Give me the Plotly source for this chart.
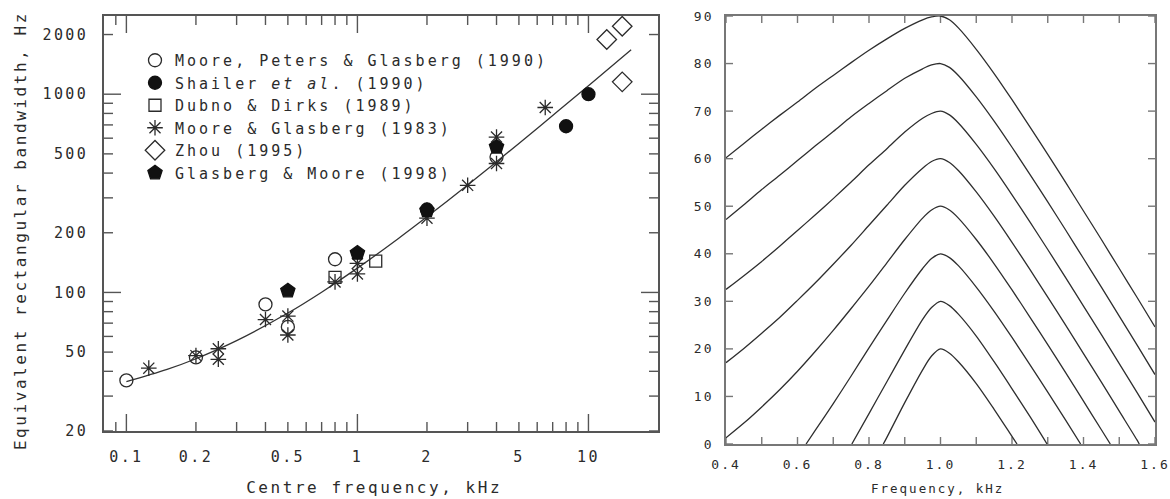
import math
import plotly.graph_objects as go

# ---------------- Left panel: ERB vs centre frequency ----------------
mpg_f = [0.1, 0.2, 0.4, 0.5, 0.8, 4.0]
mpg_erb = [36, 47, 87, 67, 147, 482]

shailer_f = [2.0, 8.0, 10.0]
shailer_erb = [262, 689, 1000]

dubno_f = [0.8, 1.2]
dubno_erb = [119, 144]

mg83_f = [0.125, 0.2, 0.25, 0.25, 0.4, 0.5, 0.5, 0.8, 1.0, 1.0, 2.0, 3.0, 4.0, 4.0, 6.5]
mg83_erb = [41.5, 48, 52, 46, 73, 76, 61, 113, 140, 124, 237, 347, 608, 447, 857]

zhou_f = [12.0, 14.0, 14.0]
zhou_erb = [1888, 2203, 1154]

gm98_f = [0.5, 1.0, 2.0, 4.0]
gm98_erb = [102, 158, 259, 542]

fit_f = [0.1, 0.15, 0.2, 0.3, 0.5, 0.7, 1.0, 1.5, 2.0, 3.0, 5.0, 7.0, 10.0, 15.3]
fit_erb = [35.5, 40.9, 46.3, 57.1, 78.7, 100.3, 132.6, 186.6, 240.6, 348.5, 564.4, 780.3, 1104, 1676]

x_ticks_left = [0.09, 0.1, 0.2, 0.3, 0.4, 0.5, 0.6, 0.7, 0.8, 0.9, 1, 2, 3, 4, 5, 6, 7, 8, 9, 10]
x_labels_left = {0.1: "0.1", 0.2: "0.2", 0.5: "0.5", 1: "1", 2: "2", 5: "5", 10: "10"}
x_decades_left = [0.1, 1, 10]
y_ticks_left = [20, 30, 40, 50, 60, 70, 80, 90, 100, 200, 300, 400, 500, 600, 700, 800, 900, 1000, 2000]
y_labels_left = {20: "20", 50: "50", 100: "100", 200: "200", 500: "500", 1000: "1000", 2000: "2000"}
y_decades_left = [100, 1000]

# ---------------- Right panel: filter shapes at 20-90 dB ----------------
lvl90_f = [0.4, 0.45, 0.5, 0.55, 0.6, 0.65, 0.7, 0.75, 0.8, 0.85, 0.9, 0.95, 0.975, 1.0,
           1.025, 1.05, 1.1, 1.15, 1.2, 1.25, 1.3, 1.35, 1.4, 1.45, 1.5, 1.55, 1.6]
lvl90_db = [60.2, 63.2, 66.2, 69.1, 71.9, 74.8, 77.5, 80.2, 82.8, 85.2, 87.4, 89.2, 89.8, 90.0,
            89.2, 87.5, 83.0, 77.9, 72.4, 66.7, 60.9, 55.0, 49.0, 43.0, 36.9, 30.8, 24.6]

lvl80_f = lvl90_f
lvl80_db = [47.2, 50.3, 53.5, 56.5, 59.6, 62.7, 65.7, 68.8, 71.6, 74.3, 76.9, 78.9, 79.7, 80.0,
            79.2, 77.5, 73.0, 67.9, 62.4, 56.7, 50.9, 45.0, 39.0, 33.0, 26.9, 20.8, 14.6]

lvl70_f = lvl90_f
lvl70_db = [32.5, 35.4, 38.4, 41.6, 44.9, 48.2, 51.6, 55.1, 58.7, 62.1, 65.6, 68.5, 69.5, 70.0,
            69.2, 67.5, 63.0, 57.9, 52.4, 46.7, 40.9, 35.0, 29.0, 23.0, 16.9, 10.8, 4.6]

lvl60_f = [0.4, 0.45, 0.5, 0.55, 0.6, 0.65, 0.7, 0.75, 0.8, 0.85, 0.9, 0.95, 0.975, 1.0,
           1.025, 1.05, 1.1, 1.15, 1.2, 1.25, 1.3, 1.35, 1.4, 1.45, 1.5, 1.55, 1.556]
lvl60_db = [17.1, 20.1, 23.3, 26.6, 30.2, 33.9, 37.8, 41.8, 46.0, 50.2, 54.4, 58.0, 59.4, 60.0,
            59.2, 57.5, 53.0, 47.9, 42.4, 36.7, 30.9, 25.0, 19.0, 13.0, 6.9, 0.8, 0.0]

lvl50_f = [0.4, 0.45, 0.5, 0.55, 0.6, 0.65, 0.7, 0.75, 0.8, 0.85, 0.9, 0.95, 0.975, 1.0,
           1.025, 1.05, 1.1, 1.15, 1.2, 1.25, 1.3, 1.35, 1.4, 1.45, 1.475]
lvl50_db = [1.3, 4.4, 7.8, 11.4, 15.3, 19.5, 23.9, 28.5, 33.2, 38.1, 43.0, 47.5, 49.2, 50.0,
            49.2, 47.5, 43.0, 37.9, 32.4, 26.7, 20.9, 15.0, 9.0, 3.0, 0.0]

lvl40_f = [0.624, 0.65, 0.7, 0.75, 0.8, 0.85, 0.9, 0.95, 0.975, 1.0,
           1.025, 1.05, 1.1, 1.15, 1.2, 1.25, 1.3, 1.35, 1.392]
lvl40_db = [0.0, 2.9, 8.5, 14.3, 20.2, 26.0, 31.7, 36.9, 39.0, 40.0,
            39.2, 37.5, 33.0, 27.9, 22.4, 16.7, 10.9, 5.0, 0.0]

lvl30_f = [0.752, 0.8, 0.85, 0.9, 0.95, 0.975, 1.0, 1.025, 1.05, 1.1, 1.15, 1.2, 1.25, 1.298]
lvl30_db = [0.0, 6.4, 13.1, 19.8, 26.2, 28.7, 30.0, 29.1, 27.3, 22.7, 17.3, 11.6, 5.8, 0.0]

lvl20_f = [0.84, 0.85, 0.9, 0.95, 0.975, 1.0, 1.025, 1.05, 1.1, 1.15, 1.2, 1.214]
lvl20_db = [0.0, 1.4, 8.7, 15.6, 18.5, 20.0, 19.1, 17.3, 12.7, 7.3, 1.6, 0.0]

x_ticks_right = [0.4, 0.5, 0.6, 0.7, 0.8, 0.9, 1.0, 1.1, 1.2, 1.3, 1.4, 1.5, 1.6]
x_labels_right = ["0.4", "", "0.6", "", "0.8", "", "1.0", "", "1.2", "", "1.4", "", "1.6"]
y_ticks_right = [0, 10, 20, 30, 40, 50, 60, 70, 80, 90]

FONT = "DejaVu Sans Mono"
INK = "#2b2b2b"
FRAME_L = "#555555"
FRAME_R = "#777777"

W, H = 1170, 499
L_px_x = [104, 658]          # frame edges, px from the left
L_px_y = [431, 16]           # frame edges, px from the top (bottom, top)
R_px_x = [726, 1155]
R_px_y = [444, 16]
L_dom_x = [L_px_x[0] / W, L_px_x[1] / W]
L_dom_y = [(H - L_px_y[0]) / H, (H - L_px_y[1]) / H]
R_dom_x = [R_px_x[0] / W, R_px_x[1] / W]
R_dom_y = [(H - R_px_y[0]) / H, (H - R_px_y[1]) / H]

x_range_left = [-1.0969, 1.3010]     # log10 units
y_range_left = [1.3010, 3.3945]      # log10 units
x_range_right = [0.4, 1.6]
y_range_right = [0, 90]

fig = go.Figure()


# ---- inward tick marks on all four sides, drawn as thin line traces ----
def tick_trace(axis_pair, ticks, rng, other_rng, span_px, other_span_px,
               log, other_log, vertical, length_of, color):
    """Tick segments for one axis, at both frame edges, in data units."""
    xs, ys = [], []
    per_px = (other_rng[1] - other_rng[0]) / other_span_px

    def conv(u, is_log):
        return 10 ** u if is_log else u

    for v in ticks:
        ln = length_of(v) * per_px
        for edge, sign in ((other_rng[0], 1), (other_rng[1], -1)):
            a = conv(edge, other_log)
            b = conv(edge + sign * ln, other_log)
            if vertical:
                xs += [v, v, None]
                ys += [a, b, None]
            else:
                xs += [a, b, None]
                ys += [v, v, None]
    fig.add_trace(go.Scatter(x=xs, y=ys, mode="lines", showlegend=False, hoverinfo="skip",
                             line=dict(color=color, width=1.4),
                             xaxis=axis_pair[0], yaxis=axis_pair[1]))


tick_trace(("x", "y"), x_ticks_left, x_range_left, y_range_left,
           L_px_x[1] - L_px_x[0], L_px_y[0] - L_px_y[1], True, True, True,
           lambda v: 17 if v in x_decades_left else 9, FRAME_L)
tick_trace(("x", "y"), y_ticks_left, y_range_left, x_range_left,
           L_px_y[0] - L_px_y[1], L_px_x[1] - L_px_x[0], True, True, False,
           lambda v: 17 if v in y_decades_left else 9, FRAME_L)
tick_trace(("x2", "y2"), x_ticks_right, x_range_right, y_range_right,
           R_px_x[1] - R_px_x[0], R_px_y[0] - R_px_y[1], False, False, True,
           lambda v: 7, FRAME_R)
tick_trace(("x2", "y2"), y_ticks_right, y_range_right, x_range_right,
           R_px_y[0] - R_px_y[1], R_px_x[1] - R_px_x[0], False, False, False,
           lambda v: 7, FRAME_R)


def add_points(xs, ys, name, symbol, size, filled):
    fig.add_trace(go.Scatter(
        x=xs, y=ys, mode="markers", name=name,
        xaxis="x", yaxis="y",
        marker=dict(symbol=symbol, size=size,
                    color="#111111" if filled else INK,
                    line=dict(width=1.3, color="#111111" if filled else INK)),
    ))


fig.add_trace(go.Scatter(x=fit_f, y=fit_erb, mode="lines", showlegend=False,
                         line=dict(color="#333333", width=1.3, shape="spline"),
                         xaxis="x", yaxis="y"))

add_points(mpg_f, mpg_erb, "Moore, Peters & Glasberg (1990)", "circle-open", 13, False)
add_points(shailer_f, shailer_erb, "Shailer <i>et al</i>. (1990)", "circle", 13, True)
add_points(dubno_f, dubno_erb, "Dubno & Dirks (1989)", "square-open", 12, False)
add_points(mg83_f, mg83_erb, "Moore & Glasberg (1983)", "asterisk-open", 13, False)
add_points(zhou_f, zhou_erb, "Zhou (1995)", "diamond-open", 15, False)
add_points(gm98_f, gm98_erb, "Glasberg & Moore (1998)", "pentagon", 15, True)

for fx, ly in [(lvl90_f, lvl90_db), (lvl80_f, lvl80_db), (lvl70_f, lvl70_db),
               (lvl60_f, lvl60_db), (lvl50_f, lvl50_db), (lvl40_f, lvl40_db),
               (lvl30_f, lvl30_db), (lvl20_f, lvl20_db)]:
    fig.add_trace(go.Scatter(x=fx, y=ly, mode="lines", showlegend=False,
                             line=dict(color="#2e2e2e", width=1.3, shape="spline", smoothing=0.8),
                             xaxis="x2", yaxis="y2"))

tick_font_l = dict(family=FONT, size=15, color=INK)
tick_font_r = dict(family=FONT, size=13, color=INK)

base = dict(showgrid=False, zeroline=False, showline=True, linewidth=1.6,
            ticks="", automargin=False, mirror=True)

fig.update_layout(
    template="none",
    width=W, height=H, margin=dict(l=0, r=0, t=0, b=0, autoexpand=False),
    paper_bgcolor="white", plot_bgcolor="white",
    font=dict(family=FONT, color=INK),
    showlegend=True,
    legend=dict(x=135 / W, y=1 - 44 / H, xanchor="left", yanchor="top",
                bgcolor="rgba(0,0,0,0)", font=dict(family=FONT, size=15, color=INK),
                tracegroupgap=0),
    xaxis=dict(domain=L_dom_x, type="log", range=x_range_left, anchor="y",
               tickmode="array", tickvals=x_ticks_left,
               ticktext=[x_labels_left.get(v, "") for v in x_ticks_left],
               tickfont=tick_font_l, ticklabelstandoff=11, linecolor=FRAME_L, **base),
    yaxis=dict(domain=L_dom_y, type="log", range=y_range_left, anchor="x",
               tickmode="array", tickvals=y_ticks_left,
               ticktext=[y_labels_left.get(v, "") for v in y_ticks_left],
               tickfont=tick_font_l, ticklabelstandoff=11, linecolor=FRAME_L, **base),
    xaxis2=dict(domain=R_dom_x, range=x_range_right, anchor="y2",
                tickmode="array", tickvals=x_ticks_right, ticktext=x_labels_right,
                tickfont=tick_font_r, ticklabelstandoff=8, linecolor=FRAME_R, **base),
    yaxis2=dict(domain=R_dom_y, range=y_range_right, anchor="x2",
                tickmode="array", tickvals=y_ticks_right,
                ticktext=[str(v) for v in y_ticks_right],
                tickfont=tick_font_r, ticklabelstandoff=8, linecolor=FRAME_R, **base),
)

fig.add_annotation(text="Centre frequency, kHz", xref="paper", yref="paper",
                   x=374 / W, y=1 - 487 / H, xanchor="center", yanchor="middle",
                   showarrow=False, font=dict(family=FONT, size=16, color=INK))
fig.add_annotation(text="Equivalent rectangular bandwidth, Hz", xref="paper", yref="paper",
                   x=20 / W, y=1 - 231 / H, xanchor="center", yanchor="middle",
                   textangle=-90, showarrow=False, font=dict(family=FONT, size=16, color=INK))
fig.add_annotation(text="Frequency, kHz", xref="paper", yref="paper",
                   x=937 / W, y=1 - 488 / H, xanchor="center", yanchor="middle",
                   showarrow=False, font=dict(family=FONT, size=12.5, color=INK))

# widen character spacing while keeping each label's anchor point fixed
spacing_js = """
var gd = document.getElementsByClassName('plotly-graph-div')[0];
function spaceText(){
  gd.querySelectorAll('text').forEach(function(t){
    if (t.getAttribute('data-ls')) return;
    var inLegend = t.closest('.legend') !== null;
    var ls = inLegend ? '0.2em' : '0.16em';
    var b0 = t.getBBox();
    t.style.letterSpacing = ls;
    var b1 = t.getBBox();
    var anchor = t.getAttribute('text-anchor') || 'start';
    var dx = 0;
    if (anchor === 'middle') dx = (b0.x + b0.width / 2) - (b1.x + b1.width / 2);
    else if (anchor === 'end') dx = (b0.x + b0.width) - (b1.x + b1.width);
    if (dx !== 0 && t.getAttribute('x') !== null) {
      t.setAttribute('x', parseFloat(t.getAttribute('x')) + dx);
    }
    t.setAttribute('data-ls', '1');
  });
  gd.querySelectorAll('.legend [clip-path]').forEach(function(e){ e.removeAttribute('clip-path'); });
}
spaceText();
if (gd.on) { gd.on('plotly_afterplot', spaceText); }
setTimeout(spaceText, 30);
"""

fig.write_html("out.html", post_script=spacing_js)
